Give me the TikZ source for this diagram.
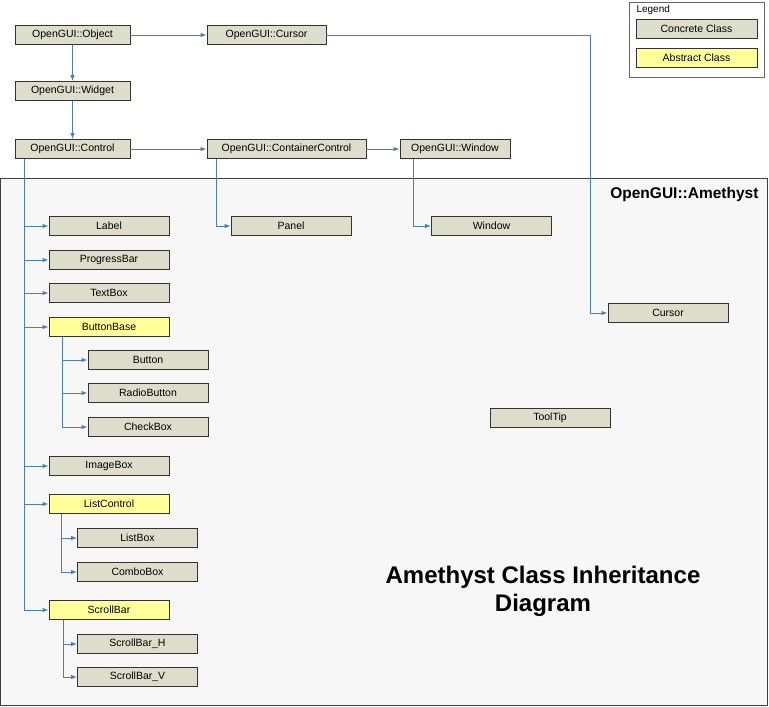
\documentclass[tikz,border=0pt]{standalone}
\usepackage{fontspec}
\setmainfont{Liberation Sans}
\usetikzlibrary{arrows.meta,calc}
\definecolor{concrete}{HTML}{DDDDCB}
\definecolor{abstract}{HTML}{FFFF99}
\definecolor{linkblue}{HTML}{4A7EBB}
\definecolor{pkgfill}{HTML}{F7F7F7}

\begin{document}
\begin{tikzpicture}[x=1pt,y=-1pt,
	conc/.style={draw=black!80,line width=0.9pt,fill=concrete,minimum height=19pt,inner sep=0pt,font=\fontsize{10.5}{12}\selectfont},
	abst/.style={conc,fill=abstract},
	link/.style={draw=linkblue,line width=0.9pt,-{Latex[length=6pt,width=4.5pt]}}]

			\useasboundingbox (0,0) rectangle (769,707);

			% package frame
			\draw[black!75,line width=1pt,fill=pkgfill] (0.5,178) rectangle (767,705);
			\node[anchor=base east,font=\fontsize{15.5}{18}\selectfont\bfseries] (pkg) at (762,198) {OpenGUI::Amethyst};

			% OpenGUI classes
			\node[conc,minimum width=115pt] (obj) at (72.5,35) {OpenGUI::Object};
			\node[conc,minimum width=119pt] (cur) at (266.5,35) {OpenGUI::Cursor};
			\node[conc,minimum width=115pt] (wid) at (72.5,91) {OpenGUI::Widget};
			\node[conc,minimum width=115pt] (ctl) at (72.5,149) {OpenGUI::Control};
			\node[conc,minimum width=159pt] (cc) at (286.5,149) {OpenGUI::ContainerControl};
			\node[conc,minimum width=110pt] (win) at (455,149) {OpenGUI::Window};

			% Amethyst classes
			\node[conc,minimum width=120pt] (lbl) at (109,226) {Label};
			\node[conc,minimum width=120pt] (prg) at (109,260) {ProgressBar};
			\node[conc,minimum width=120pt] (txt) at (109,293) {TextBox};
			\node[abst,minimum width=120pt] (bb) at (109,327) {ButtonBase};
			\node[conc,minimum width=120pt] (btn) at (148,360) {Button};
			\node[conc,minimum width=120pt] (rad) at (148,393) {RadioButton};
			\node[conc,minimum width=120pt] (chk) at (148,427) {CheckBox};
			\node[conc,minimum width=120pt] (img) at (109,466) {ImageBox};
			\node[abst,minimum width=120pt] (lc) at (109,504) {ListControl};
			\node[conc,minimum width=120pt] (lst) at (137.5,538) {ListBox};
			\node[conc,minimum width=120pt] (cmb) at (137.5,572) {ComboBox};
			\node[abst,minimum width=120pt] (sb) at (109,610) {ScrollBar};
			\node[conc,minimum width=120pt] (sbh) at (137.5,644) {ScrollBar\_H};
			\node[conc,minimum width=120pt] (sbv) at (137.5,677) {ScrollBar\_V};
			\node[conc,minimum width=120pt] (pnl) at (291,226) {Panel};
			\node[conc,minimum width=120pt] (wini) at (491.5,226) {Window};
			\node[conc,minimum width=120pt] (curi) at (668,313) {Cursor};
			\node[conc,minimum width=120pt] (tip) at (550,418) {ToolTip};

			% legend
			\draw[black!60,line width=0.8pt,fill=white] (629,2) rectangle (764,77);
			\node[anchor=west,font=\fontsize{10}{12}\selectfont] (leg) at (633,10) {Legend};
			\node[conc,minimum width=121pt] (legc) at (696.5,29) {Concrete Class};
			\node[abst,minimum width=121pt] (lega) at (696.5,58) {Abstract Class};

			\node[align=center,font=\fontsize{24}{28}\selectfont\bfseries] (title) at (543,591) {Amethyst Class Inheritance\\Diagram};

			% inheritance
			\draw[link] (obj) -- (cur);
			\draw[link] (obj) -- (wid);
			\draw[link] (wid) -- (ctl);
			\draw[link] (ctl) -- (cc);
			\draw[link] (cc) -- (win);
			\coordinate (cbend) at (590,35);
			\draw[link] (cur.east) -- (cbend) |- (curi.west);
			\draw[link] ([xshift=10pt]cc.south west) |- (pnl.west);
			\draw[link] ([xshift=14pt]win.south west) |- (wini.west);

			\draw[link] ([xshift=10pt]ctl.south west) |- (lbl.west);
			\draw[link] ([xshift=10pt]ctl.south west) |- (prg.west);
			\draw[link] ([xshift=10pt]ctl.south west) |- (txt.west);
			\draw[link] ([xshift=10pt]ctl.south west) |- (bb.west);
			\draw[link] ([xshift=10pt]ctl.south west) |- (img.west);
			\draw[link] ([xshift=10pt]ctl.south west) |- (lc.west);
			\draw[link] ([xshift=10pt]ctl.south west) |- (sb.west);

			\draw[link] ([xshift=14pt]bb.south west) |- (btn.west);
			\draw[link] ([xshift=14pt]bb.south west) |- (rad.west);
			\draw[link] ([xshift=14pt]bb.south west) |- (chk.west);
			\draw[link] ([xshift=13pt]lc.south west) |- (lst.west);
			\draw[link] ([xshift=13pt]lc.south west) |- (cmb.west);
			\draw[link] ([xshift=15pt]sb.south west) |- (sbh.west);
			\draw[link] ([xshift=15pt]sb.south west) |- (sbv.west);

		\end{tikzpicture}
\end{document}
